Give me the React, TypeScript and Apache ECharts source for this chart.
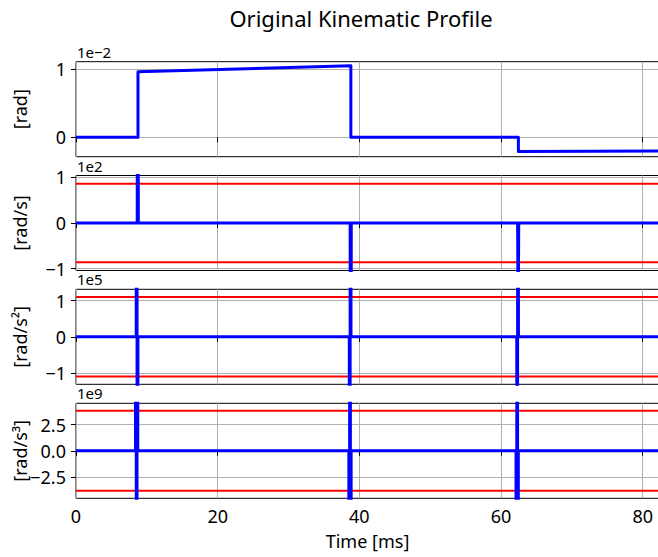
import React, { useEffect, useRef } from 'react';
import * as echarts from 'echarts';

// ---------- data ----------
const xMax = 82.3;
const xTicks = [0, 20, 40, 60, 80];

// position, units of 1e-2 rad
const posTime = [0, 8.75, 8.75, 38.8, 38.8, 62.45, 62.45, 82.3];
const posValue = [0, 0, 0.96, 1.048, 0, 0, -0.21, -0.2];

// velocity, units of 1e2 rad/s
const velTime = [0, 8.64, 8.72, 8.8, 38.7, 38.78, 38.86, 62.34, 62.42, 62.5, 82.3];
const velValue = [0, 0, 9.6, 0, 0, -10.5, 0, 0, -2.1, 0, 0];

// acceleration, units of 1e5 rad/s^2
const accTime = [0, 8.5, 8.58, 8.66, 8.74, 38.58, 38.66, 38.74, 38.82, 62.22, 62.3, 62.38, 62.46, 82.3];
const accValue = [0, 0, 96, -96, 0, 0, -105, 105, 0, 0, -21, 21, 0, 0];

// jerk, units of 1e9 rad/s^3
const jerkTime = [0, 8.4, 8.48, 8.56, 8.64, 8.72, 38.52, 38.6, 38.68, 38.76, 38.84, 62.12, 62.2, 62.28, 62.36, 62.44, 82.3];
const jerkValue = [0, 0, 960, -1920, 960, 0, 0, -1050, 2100, -1050, 0, 0, -210, 420, -210, 0, 0];

// limits (red lines)
const velLimit = 0.86;
const accLimit = 1.1;
const jerkLimit = 3.82;

// axis ranges and ticks
const posRange = [-0.285, 1.108];
const velRange = [-1.04, 1.04];
const accRange = [-1.315, 1.315];
const jerkRange = [-4.54, 4.54];
const posTicks = [0, 1];
const velTicks = [-1, 0, 1];
const accTicks = [-1, 0, 1];
const jerkTicks = [-2.5, 0, 2.5];

const yNames = ['[rad]', '[rad/s]', '[rad/s²]', '[rad/s³]'];
const offsetTexts = ['1e\u22122', '1e2', '1e5', '1e9'];
const titleText = 'Original Kinematic Profile';
const xName = 'Time [ms]';

// ---------- layout ----------
const FONT = '"Noto Sans", sans-serif';
const LEFT = 76;
const WIDTH = 583;
const HEIGHT = 95;
const TOPS = [61.7, 175.5, 289.3, 403.3];

const zip = (t: number[], v: number[]) => t.map((x, i) => [x, v[i]]);

const fmt = (decimals: number) => (v: number) => {
  const s = Math.abs(v).toFixed(decimals);
  return v < 0 ? '\u2212' + s : s;
};

export default function App() {
  const ref = useRef<HTMLDivElement>(null);
  useEffect(() => {
    document.body.style.margin = '0';
    const chart = echarts.init(ref.current!, null, { renderer: 'svg' });

    const ranges = [posRange, velRange, accRange, jerkRange];
    const ticks = [posTicks, velTicks, accTicks, jerkTicks];
    const decimals = [0, 0, 0, 1];
    const blueData = [zip(posTime, posValue), zip(velTime, velValue), zip(accTime, accValue), zip(jerkTime, jerkValue)];
    const limits = [null, velLimit, accLimit, jerkLimit];

    const series: any[] = [];
    limits.forEach((lim, i) => {
      if (lim == null) return;
      [lim, -lim].forEach((l) => {
        series.push({
          type: 'line',
          xAxisIndex: i,
          yAxisIndex: i,
          data: [[0, l], [xMax, l]],
          showSymbol: false,
          silent: true,
          z: 2,
          lineStyle: { color: '#ff0000', width: 2 },
        });
      });
    });
    blueData.forEach((d, i) => {
      series.push({
        type: 'line',
        xAxisIndex: i,
        yAxisIndex: i,
        data: d,
        showSymbol: false,
        silent: true,
        clip: true,
        z: 3,
        lineStyle: { color: '#0000ff', width: 3, join: 'round', cap: 'butt' },
      });
    });

    const option: any = {
      animation: false,
      backgroundColor: '#ffffff',
      textStyle: { fontFamily: FONT },
      title: {
        text: titleText,
        left: 356,
        textAlign: 'center',
        top: 1,
        textStyle: { fontFamily: FONT, fontSize: 22, lineHeight: 24, fontWeight: 'normal', color: '#000' },
      },
      grid: TOPS.map((t) => ({
        left: LEFT,
        top: t,
        width: WIDTH,
        height: HEIGHT,
        show: true,
        borderColor: '#000',
        borderWidth: 1,
        backgroundColor: 'transparent',
        containLabel: false,
        outerBoundsMode: 'none',
      })),
      xAxis: TOPS.map((_, i) => ({
        type: 'value',
        gridIndex: i,
        min: 0,
        max: xMax,
        axisLine: { show: false },
        axisTick: { show: true, length: 5, lineStyle: { color: '#000', width: 1 }, customValues: xTicks },
        axisLabel: {
          show: i === 3,
          customValues: xTicks,
          fontSize: 18,
          color: '#000',
          fontFamily: FONT,
          margin: 9,
        },
        splitLine: { show: true, lineStyle: { color: '#b0b0b0', width: 1 } },
        name: i === 3 ? xName : '',
        nameLocation: 'middle',
        nameGap: 34,
        nameTextStyle: { fontSize: 18, color: '#000', fontFamily: FONT },
      })),
      yAxis: TOPS.map((_, i) => ({
        type: 'value',
        gridIndex: i,
        min: ranges[i][0],
        max: ranges[i][1],
        axisLine: { show: false },
        axisTick: { show: true, length: 5, lineStyle: { color: '#000', width: 1 }, customValues: ticks[i] },
        axisLabel: {
          show: true,
          customValues: ticks[i],
          formatter: fmt(decimals[i]),
          fontSize: 18,
          color: '#000',
          fontFamily: FONT,
          margin: 10,
        },
        splitLine: { show: true, lineStyle: { color: '#b0b0b0', width: 1 } },
        name: yNames[i],
        nameLocation: 'middle',
        nameGap: 47,
        nameMoveOverlap: false,
        nameTextStyle: { fontSize: 18, lineHeight: 18, color: '#000', fontFamily: FONT },
      })),
      graphic: TOPS.map((t, i) => ({
        type: 'text',
        x: LEFT + 1,
        y: t - 10,
        silent: true,
        style: {
          text: offsetTexts[i],
          font: `15px ${FONT}`,
          fill: '#000',
          align: 'left',
          verticalAlign: 'middle',
        },
      })),
      series,
    };
    chart.setOption(option);
    return () => chart.dispose();
  }, []);
  return <div ref={ref} style={{ width: 658, height: 557 }} />;
}
